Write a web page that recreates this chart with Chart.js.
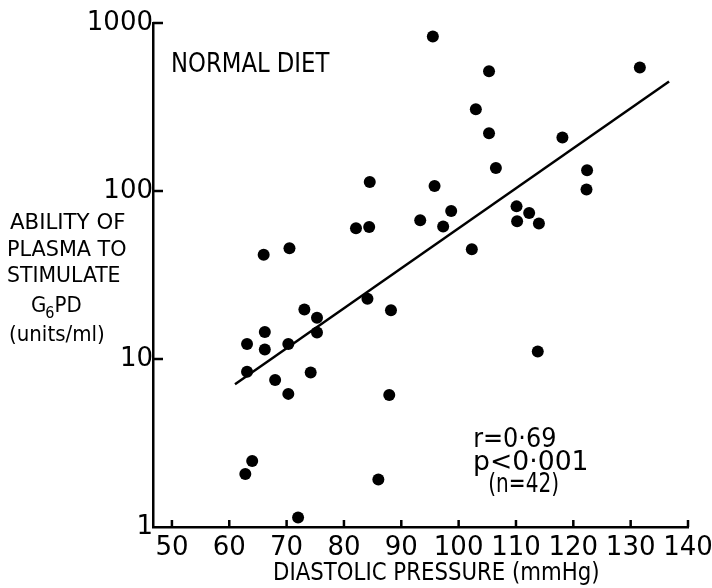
<!DOCTYPE html>
<html>
<head>
<meta charset="utf-8">
<script src="https://cdn.jsdelivr.net/npm/chart.js@4/dist/chart.umd.min.js"></script>
<style>
  html, body { margin: 0; padding: 0; background: #fff; }
  #wrap { width: 712px; height: 588px; }
</style>
</head>
<body>
<div id="wrap"><canvas id="plot" width="712" height="588"></canvas></div>
<script>
// diastolic pressure (mmHg) and plasma G6PD-stimulating ability (units/ml)
var diastolic = [62.8, 63.1, 63.1, 64.0, 66.0, 66.2, 66.2, 68.0, 70.3, 70.3, 70.5, 72.0,
                 73.1, 74.2, 75.3, 75.3, 82.1, 84.1, 84.4, 84.5, 86.0, 87.9, 88.2, 93.3,
                 95.5, 95.8, 97.3, 98.7, 102.3, 103.0, 105.3, 105.3, 106.5, 110.1, 110.2,
                 112.3, 113.8, 114.0, 118.1, 122.3, 122.4, 131.6];
var activity  = [2.07, 12.3, 8.4, 2.47, 41.7, 14.5, 11.4, 7.5, 12.3, 6.2, 45.7, 1.14,
                 19.7, 8.3, 17.6, 14.4, 60, 22.8, 61, 113, 1.92, 6.1, 19.5, 67,
                 830, 107, 61.5, 76, 45, 307, 517, 221, 137, 81, 66,
                 74, 11.1, 64, 208, 102, 133, 543];

// regression line end points
var fitX = [61.0, 136.7];
var fitY = [7.07, 449];

var xTicks = [50, 60, 70, 80, 90, 100, 110, 120, 130, 140];
var yTicks = [1, 10, 100, 1000];

var points = diastolic.map(function(v, i){ return {x: v, y: activity[i]}; });
var fitLine = fitX.map(function(v, i){ return {x: v, y: fitY[i]}; });

// draws text so that its ink spans exactly `width` px, starting at x
function fitText(ctx, text, x, y, width, size, family){
    ctx.font = size + 'px "' + family + '"';
    var m = ctx.measureText(text);
    var ink = m.actualBoundingBoxLeft + m.actualBoundingBoxRight;
    var k = width / ink;
    ctx.save();
    ctx.translate(x + m.actualBoundingBoxLeft * k, y);
    ctx.scale(k, 1);
    ctx.fillText(text, 0, 0);
    ctx.restore();
}

var ink = {
    id: 'ink',
    afterDraw: function(chart){
        var ctx = chart.ctx, xs = chart.scales.x, ys = chart.scales.y;
        ctx.save();
        ctx.strokeStyle = '#000';
        ctx.lineWidth = 2.5;
        ctx.beginPath();
        yTicks.forEach(function(v){
            if (v === yTicks[0]) return;
            var py = ys.getPixelForValue(v);
            ctx.moveTo(xs.left, py); ctx.lineTo(xs.left + 10, py);
        });
        xTicks.forEach(function(v){
            var px = xs.getPixelForValue(v);
            ctx.moveTo(px, ys.bottom); ctx.lineTo(px, ys.bottom - 7);
        });
        ctx.stroke();

        ctx.fillStyle = '#000';
        ctx.textBaseline = 'alphabetic';
        ctx.textAlign = 'left';
        var cond = 'DejaVu Sans Condensed', sans = 'DejaVu Sans';

        fitText(ctx, 'NORMAL DIET', 173, 72, 157, 26, cond);

        // y axis title
        fitText(ctx, 'ABILITY OF', 10, 229, 115, 22, cond);
        fitText(ctx, 'PLASMA TO', 8, 256, 118, 22, cond);
        fitText(ctx, 'STIMULATE', 8, 282, 112, 22, cond);
        ctx.font = '22px "' + cond + '"';
        ctx.fillText('G', 31, 312);
        var gw = ctx.measureText('G').width;
        ctx.font = '16px "' + cond + '"';
        ctx.fillText('6', 31 + gw - 1, 318);
        var sw = ctx.measureText('6').width;
        ctx.font = '22px "' + cond + '"';
        ctx.fillText('PD', 31 + gw + sw - 1, 312);
        fitText(ctx, '(units/ml)', 10, 341, 94, 22, cond);

        // x axis title
        fitText(ctx, 'DIASTOLIC PRESSURE (mmHg)', 275, 580, 323, 25, cond);

        // statistics
        fitText(ctx, 'r=0\u00B769', 475, 447, 80, 26, sans);
        fitText(ctx, 'p<0\u00B7001', 475, 470, 112, 26, sans);
        fitText(ctx, '(n=42)', 490, 492, 68, 26, cond);
        ctx.restore();
    }
};

var ctx = document.getElementById('plot').getContext('2d');
var chart = new Chart(ctx, {
    type: 'scatter',
    data: {
        datasets: [{
            data: points,
            backgroundColor: '#000',
            borderColor: '#000',
            pointRadius: 6,
            borderWidth: 0,
            clip: false
        }, {
            type: 'line',
            data: fitLine,
            borderColor: '#000',
            borderWidth: 2.5,
            pointRadius: 0,
            fill: false,
            showLine: true
        }]
    },
    options: {
        responsive: false,
        animation: false,
        layout: { padding: { left: 0, top: 23, right: 24, bottom: 0 } },
        plugins: { legend: { display: false }, tooltip: { enabled: false } },
        scales: {
            x: {
                type: 'linear',
                min: 46.7, max: 140,
                afterBuildTicks: function(s){ s.ticks = xTicks.map(function(v){ return {value: v}; }); },
                afterFit: function(s){ s.height = 61; s.paddingLeft = 0; s.paddingRight = 0; },
                grid: { display: false, drawTicks: false },
                border: { display: true, color: '#000', width: 2.5 },
                ticks: {
                    color: '#000', padding: 6, maxRotation: 0, autoSkip: false,
                    font: { family: 'DejaVu Sans', size: 26 }
                }
            },
            y: {
                type: 'logarithmic',
                min: 1, max: 1000,
                afterBuildTicks: function(s){ s.ticks = yTicks.map(function(v){ return {value: v}; }); },
                afterFit: function(s){ s.width = 153; s.paddingTop = 0; s.paddingBottom = 0; },
                grid: { display: false, drawTicks: false },
                border: { display: true, color: '#000', width: 2.5 },
                ticks: {
                    color: '#000', padding: 0, autoSkip: false,
                    font: { family: 'DejaVu Sans', size: 26 },
                    callback: function(v){ return String(v); }
                }
            }
        }
    },
    plugins: [ink]
});
</script>
</body>
</html>
